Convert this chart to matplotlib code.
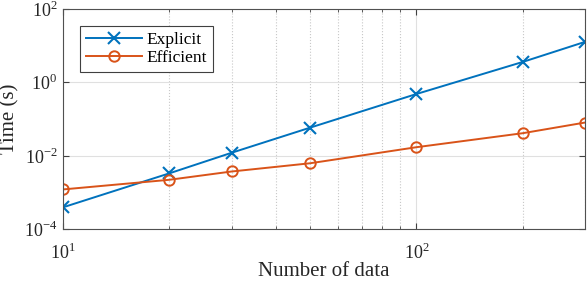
import numpy as np
import matplotlib.pyplot as plt
from matplotlib.ticker import LogLocator, NullFormatter, NullLocator, FixedLocator, FuncFormatter

n_data = [10, 20, 30, 50, 100, 200, 300]
t_explicit = [3.9e-4, 3.3e-3, 0.012, 0.058, 0.48, 3.6, 12.7]
t_efficient = [1.2e-3, 2.2e-3, 3.7e-3, 6.2e-3, 0.017, 0.041, 0.080]

plt.rcParams['font.family'] = ['Liberation Serif', 'DejaVu Serif']
plt.rcParams['mathtext.fontset'] = 'custom'
plt.rcParams['mathtext.rm'] = 'Liberation Serif'
plt.rcParams['axes.unicode_minus'] = False


def pow10(v, pos):
    return r'10$^{\mathregular{%d}}$' % int(round(np.log10(v)))


fig = plt.figure(figsize=(5.88, 2.84), dpi=100)
ax = fig.add_axes([63/588, 1 - 229/284, (585 - 63)/588, (229 - 9)/284])

ax.plot(n_data, t_explicit, color='#0072BD', marker='x', markersize=8,
        markeredgewidth=1.5, linewidth=1.4, label='Explicit')
ax.plot(n_data, t_efficient, color='#D95319', marker='o', markersize=7.5,
        markerfacecolor='none', markeredgewidth=1.4, linewidth=1.4, label='Efficient')

ax.set_xscale('log')
ax.set_yscale('log')
ax.set_xlim(10, 300)
ax.set_ylim(1e-4, 1e2)
ax.yaxis.set_major_locator(FixedLocator([1e-4, 1e-2, 1e0, 1e2]))
ax.yaxis.set_minor_locator(NullLocator())
ax.yaxis.set_major_formatter(FuncFormatter(pow10))
ax.xaxis.set_major_locator(FixedLocator([10, 100]))
ax.xaxis.set_major_formatter(FuncFormatter(pow10))
ax.xaxis.set_minor_locator(LogLocator(base=10, subs=np.arange(2, 10)))
ax.xaxis.set_minor_formatter(NullFormatter())

ax.grid(True, which='major', color='#e0e0e0', linestyle='-', linewidth=0.8)
ax.grid(True, which='minor', axis='x', color='#c8c8c8', linestyle=':', linewidth=0.8)
ax.set_axisbelow(True)

ax.tick_params(which='both', direction='in', top=True, right=True,
               labelsize=13, color='#404040', labelcolor='#262626')
ax.tick_params(which='major', length=4)
ax.tick_params(which='minor', length=2)
ax.tick_params(axis='x', pad=10)
ax.tick_params(axis='y', pad=4)
for s in ax.spines.values():
    s.set_linewidth(0.8)
    s.set_color('#505050')

ax.set_xlabel('Number of data', fontsize=15, color='#262626')
ax.set_ylabel('Time (s)', fontsize=15, color='#262626')
ax.xaxis.set_label_coords(0.5, -0.15)
ax.yaxis.set_label_coords(-0.083, 0.5)

leg = ax.legend(loc='upper left', bbox_to_anchor=(0.033, 0.923), borderaxespad=0,
                fontsize=12.5, fancybox=False, edgecolor='#404040', framealpha=1,
                handlelength=3.2, borderpad=0.35, labelspacing=0.1, handletextpad=0.25)
leg.get_frame().set_linewidth(0.8)

fig.savefig('out.png', dpi=100)
